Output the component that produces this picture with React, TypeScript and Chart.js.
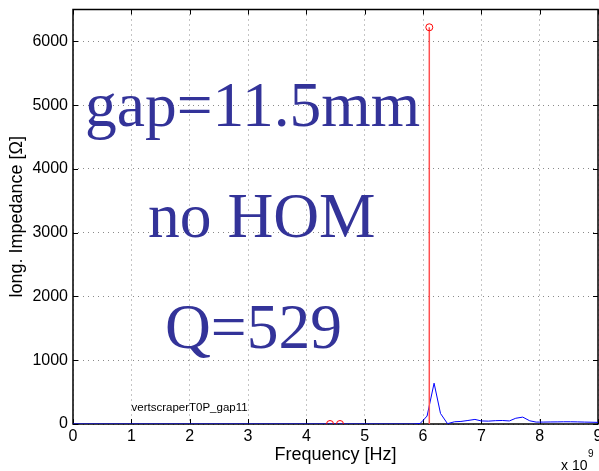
import React, { useEffect, useRef } from "react";
import { Chart, registerables } from "chart.js";

Chart.register(...registerables);

// Blue trace: longitudinal impedance vs frequency (GHz units, x 10^9 Hz)
const freqGHz = [0, 5.83, 5.95, 6.005, 6.07, 6.19, 6.3, 6.42, 6.54, 6.65, 6.77, 6.89, 7.0, 7.12, 7.24, 7.36, 7.48, 7.59, 7.71, 7.83, 7.94, 8.06, 8.18, 8.3, 8.41, 8.53, 8.65, 8.77, 8.88, 9.0];
const impedance = [0, 0, 8, 60, 125, 640, 165, 5, 35, 40, 55, 72, 48, 45, 52, 55, 48, 90, 108, 50, 30, 30, 32, 33, 35, 35, 33, 30, 28, 25];

// Red stem markers (mode frequencies / shunt impedance)
const stemFreq = [4.406, 4.577, 6.108];
const stemValue = [0, 0, 6221];

const xTicks = [0, 1, 2, 3, 4, 5, 6, 7, 8, 9];
const yTicks = [0, 1000, 2000, 3000, 4000, 5000, 6000];

const annotationLines = ["gap=11.5mm", "no HOM", "Q=529"];
const fileLabel = "vertscraperT0P_gap11";

export default function App() {
  const ref = useRef<HTMLCanvasElement | null>(null);

  useEffect(() => {
    if (!ref.current) return;
    const blueData = freqGHz.map((f, i) => ({ x: f, y: impedance[i] }));
    const stemLine: any[] = [];
    stemFreq.forEach((f, i) => {
      stemLine.push({ x: f, y: 0 });
      stemLine.push({ x: f, y: stemValue[i] });
      stemLine.push({ x: f, y: null });
    });
    const stemMarks = stemFreq.map((f, i) => ({ x: f, y: stemValue[i] }));

    const zeroPad = () => ({ left: 0, top: 0, right: 0, bottom: 0 });

    const framePlugin = {
      id: "frame",
      beforeLayout(chart: any) {
        Object.values(chart.scales).forEach((s: any) => {
          s.getPadding = zeroPad;
        });
      },
      beforeDatasetsDraw(chart: any) {
        const { ctx, chartArea: a, scales } = chart;
        ctx.save();
        ctx.strokeStyle = "#000";
        ctx.lineWidth = 1;
        ctx.beginPath();
        xTicks.forEach((t) => {
          const px = Math.round(scales.x.getPixelForValue(t)) + 0.5;
          ctx.moveTo(px, a.bottom);
          ctx.lineTo(px, a.bottom - 5);
          ctx.moveTo(px, a.top);
          ctx.lineTo(px, a.top + 5);
        });
        yTicks.forEach((t) => {
          const py = Math.round(scales.y.getPixelForValue(t)) + 0.5;
          ctx.moveTo(a.left, py);
          ctx.lineTo(a.left + 5, py);
          ctx.moveTo(a.right, py);
          ctx.lineTo(a.right - 5, py);
        });
        ctx.stroke();
        ctx.lineWidth = 1.5;
        ctx.strokeRect(a.left, a.top, a.right - a.left, a.bottom - a.top);
        ctx.restore();
      },
      afterDraw(chart: any) {
        const { ctx } = chart;
        ctx.save();
        ctx.fillStyle = "#333399";
        ctx.font = "63.5px 'Liberation Serif', 'Times New Roman', serif";
        ctx.textBaseline = "alphabetic";
        ctx.textAlign = "left";
        ctx.fillText(annotationLines[0], 85, 125.5);
        ctx.fillText(annotationLines[1], 148, 236.7);
        ctx.fillText(annotationLines[2], 165, 348);
        ctx.fillStyle = "#000";
        ctx.font = "11.5px 'Liberation Sans', Arial, sans-serif";
        ctx.fillText(fileLabel, 131.5, 411);
        ctx.font = "14px 'Liberation Sans', Arial, sans-serif";
        ctx.fillText("x 10", 561, 470);
        ctx.font = "10px 'Liberation Sans', Arial, sans-serif";
        ctx.fillText("9", 588, 456.5);
        ctx.restore();
      },
    };

    const chart = new Chart(ref.current, {
      type: "scatter",
      data: {
        datasets: [
          {
            data: stemMarks,
            showLine: false,
            pointRadius: 3.5,
            pointHoverRadius: 3.5,
            pointStyle: "circle",
            pointBorderColor: "#ff0000",
            pointBackgroundColor: "rgba(0,0,0,0)",
            pointBorderWidth: 1,
          },
          {
            data: stemLine,
            showLine: true,
            spanGaps: false,
            borderColor: "#ff5050",
            borderWidth: 1.5,
            pointRadius: 0,
          },
          {
            data: blueData,
            showLine: true,
            borderColor: "#0000ff",
            borderWidth: 1,
            pointRadius: 0,
          },
        ] as any,
      },
      options: {
        responsive: false,
        animation: false,
        layout: { autoPadding: false, padding: { top: 9.5, right: 1, left: 0, bottom: 0 } },
        plugins: { legend: { display: false }, tooltip: { enabled: false } },
        scales: {
          x: {
            type: "linear",
            min: 0,
            max: 9,
            afterBuildTicks: (s: any) => {
              s.ticks = xTicks.map((v) => ({ value: v }));
            },
            afterFit: (s: any) => {
              s.height = 47;
              s.paddingLeft = 0;
              s.paddingRight = 0;
            },
            ticks: {
              color: "#000",
              padding: 3,
              maxRotation: 0,
              autoSkip: false,
              callback: (v: any) => String(v),
              font: { family: "'Liberation Sans', Arial, sans-serif", size: 16 },
            },
            grid: { color: "#8a8a8a", drawTicks: false, lineWidth: 1 },
            border: { display: false, dash: [1, 4] },
            title: {
              display: true,
              text: "Frequency [Hz]",
              color: "#000",
              padding: { top: 0, bottom: 5 },
              font: { family: "'Liberation Sans', Arial, sans-serif", size: 18 },
            },
          },
          y: {
            type: "linear",
            min: 0,
            max: 6500,
            afterBuildTicks: (s: any) => {
              s.ticks = yTicks.map((v) => ({ value: v }));
            },
            afterFit: (s: any) => {
              s.width = 73;
              s.paddingTop = 0;
              s.paddingBottom = 0;
            },
            ticks: {
              color: "#000",
              padding: 5,
              autoSkip: false,
              callback: (v: any) => String(v),
              font: { family: "'Liberation Sans', Arial, sans-serif", size: 16 },
            },
            grid: { color: "#8a8a8a", drawTicks: false, lineWidth: 1 },
            border: { display: false, dash: [1, 4] },
            title: {
              display: true,
              text: "long. Impedance [Ω]",
              color: "#000",
              padding: { top: 6, bottom: 0 },
              font: { family: "'Liberation Sans', Arial, sans-serif", size: 18 },
            },
          },
        },
      } as any,
      plugins: [framePlugin],
    });
    return () => chart.destroy();
  }, []);

  return (
    <div style={{ position: "fixed", left: 0, top: 0, width: 599, height: 471, background: "#fff" }}>
      <canvas ref={ref} width={599} height={471} style={{ display: "block" }} />
    </div>
  );
}
